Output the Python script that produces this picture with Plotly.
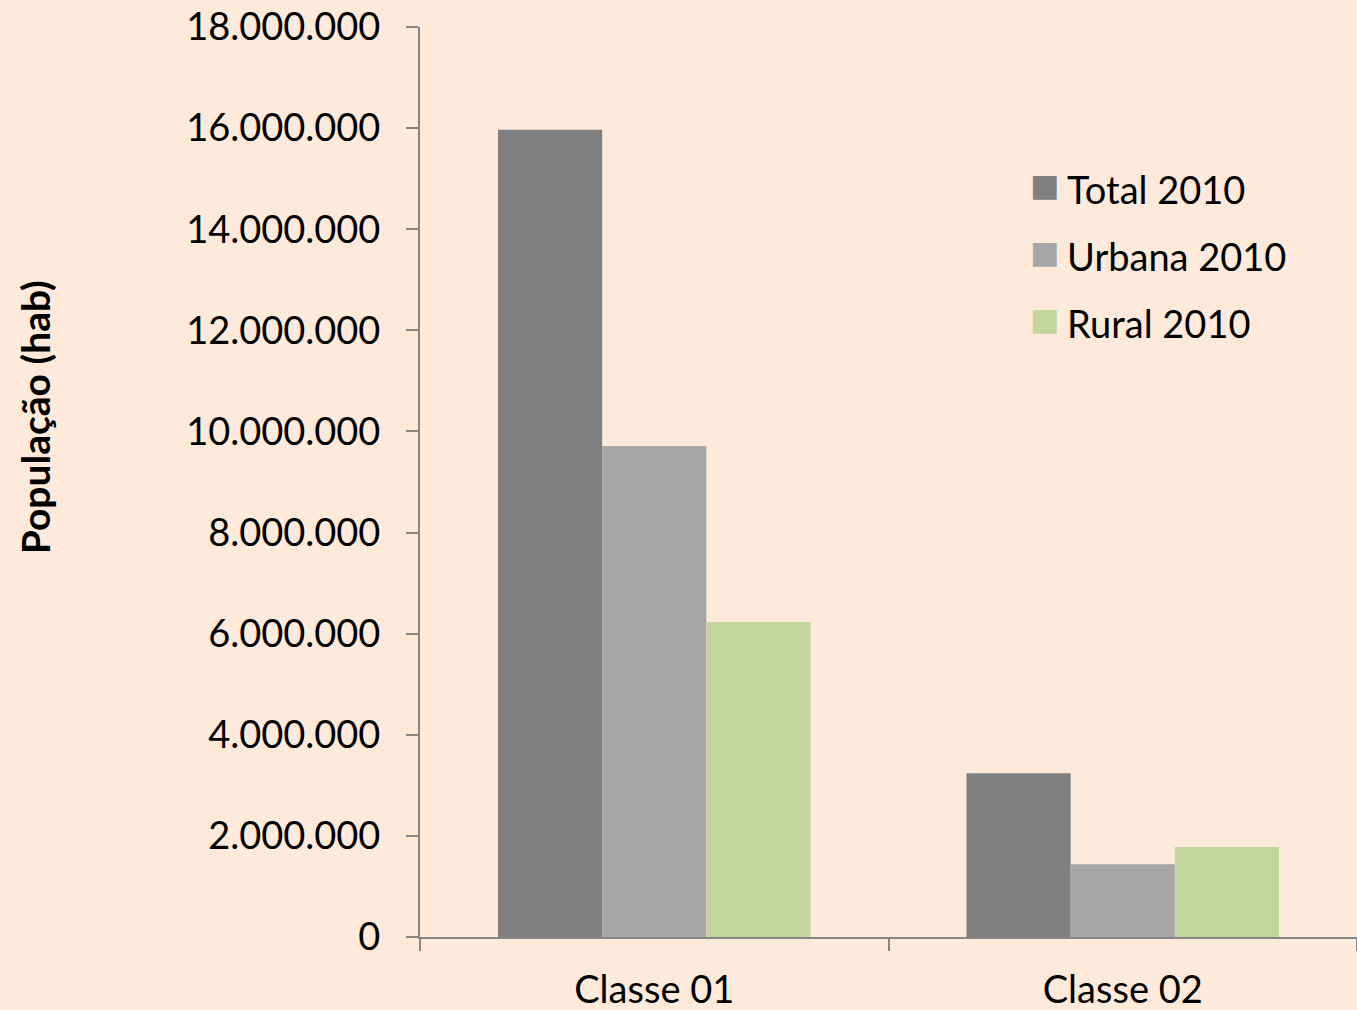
import plotly.graph_objects as go

categories = ["Classe 01", "Classe 02"]
total_2010 = [15970000, 3240000]
urbana_2010 = [9710000, 1440000]
rural_2010 = [6230000, 1780000]

series = [
    ("Total 2010", total_2010, "#808080"),
    ("Urbana 2010", urbana_2010, "#a6a6a6"),
    ("Rural 2010", rural_2010, "#c3d69b"),
]

font = "Lato, 'Open Sans', sans-serif"

fig = go.Figure()
for name, values, color in series:
    fig.add_trace(go.Bar(x=categories, y=values, name=name, showlegend=False,
                         marker=dict(color=color, line=dict(width=0))))

# legend drawn by hand so the swatches are as big as in the original
for i, (name, values, color) in enumerate(series):
    row_y = 0.822 - i * 0.0735
    fig.add_annotation(xref="paper", yref="paper", x=0.649, y=row_y + 0.004,
                       xanchor="left", yanchor="middle", showarrow=False,
                       text="■", font=dict(family="DejaVu Sans", size=31, color=color))
    fig.add_annotation(xref="paper", yref="paper", x=0.688, y=row_y,
                       xanchor="left", yanchor="middle", showarrow=False,
                       text=name, font=dict(size=38))

fig.add_annotation(xref="paper", yref="paper", x=-0.411, y=0.571, textangle=-90,
                   xanchor="center", yanchor="middle", showarrow=False,
                   text="<b>População (hab)</b>", font=dict(size=39))

fig.update_layout(
    width=1357, height=1010,
    paper_bgcolor="#fdeada", plot_bgcolor="#fdeada",
    margin=dict(l=420, r=0, t=27, b=73),
    separators=",.",
    barmode="group", bargap=0.333, bargroupgap=0,
    font=dict(family=font, size=38, color="black"),
)
fig.update_xaxes(showline=True, linecolor="#868686", linewidth=2,
                 ticks="outside", tickson="boundaries", ticklen=12,
                 tickcolor="#868686", tickwidth=2, showgrid=False,
                 ticklabelstandoff=18)
fig.update_yaxes(range=[0, 18000000], dtick=2000000, tickformat=",d",
                 showline=True, linecolor="#868686", linewidth=2,
                 ticks="outside", ticklen=12, tickcolor="#868686", tickwidth=2,
                 showgrid=False, zeroline=False, ticklabelstandoff=18)

fig.write_html("out.html", config={"displayModeBar": False},
               post_script="document.body.style.margin='0';")
